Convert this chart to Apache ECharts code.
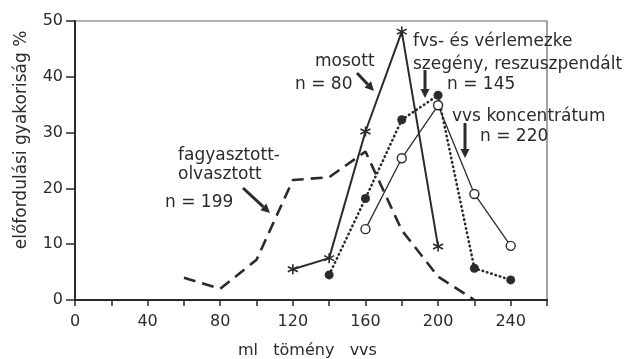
<!DOCTYPE html>
<html><head><meta charset="utf-8">
<script src="https://cdn.jsdelivr.net/npm/echarts@6/dist/echarts.min.js"></script>
<style>html,body{margin:0;padding:0;background:#fff}#c{width:630px;height:359px}</style>
</head><body><div id="c"></div>
<script>
// Data (x = ml tömény vvs, y = előfordulási gyakoriság %)
var fagyX = [60, 80, 100, 120, 140, 160, 180, 200, 220];
var fagyY = [4, 2, 7.2, 21.5, 22, 26.6, 12.5, 4.2, 0];
var mosottX = [120, 140, 160, 180, 200];
var mosottY = [5.5, 7.5, 30.2, 48.1, 9.6];
var fvsX = [140, 160, 180, 200, 220, 240];
var fvsY = [4.5, 18.2, 32.3, 36.7, 5.7, 3.6];
var vvsX = [160, 180, 200, 220, 240];
var vvsY = [12.7, 25.4, 34.9, 19.0, 9.7];
var xTickLabels = ['0', '40', '80', '120', '160', '200', '240'];
var yTickLabels = ['0', '10', '20', '30', '40', '50'];

function pairs(xs, ys) { return xs.map(function (x, i) { return [x, ys[i]]; }); }

var FONT = 'DejaVu Sans';
var INK = '#2b2b2b';
var star = 'path://M0,-10L0,10M-8.66,-5L8.66,5M-8.66,5L8.66,-5';

function arrow(x1, y1, x2, y2) {
  var dx = x2 - x1, dy = y2 - y1, L = Math.sqrt(dx * dx + dy * dy);
  var ux = dx / L, uy = dy / L, hl = 9, hw = 4.5;
  var bx = x2 - ux * hl, by = y2 - uy * hl;
  return [
    { type: 'line', shape: { x1: x1, y1: y1, x2: bx, y2: by }, style: { stroke: INK, lineWidth: 3 } },
    { type: 'polygon', shape: { points: [[x2, y2], [bx - uy * hw, by + ux * hw], [bx + uy * hw, by - ux * hw]] }, style: { fill: INK } }
  ];
}
function txt(x, y, s, align, size) {
  return { type: 'text', x: x, y: y, style: { text: s, font: (size || 17) + 'px "' + FONT + '"', fill: INK, textAlign: align || 'left', textVerticalAlign: 'middle' } };
}

var chart = echarts.init(document.getElementById('c'), null, { renderer: 'canvas' });
var graphics = [
  txt(178, 156, 'fagyasztott-'),
  txt(178, 175, 'olvasztott'),
  txt(165, 203, 'n = 199'),
  txt(315, 62, 'mosott'),
  txt(295, 85, 'n = 80'),
  txt(413, 42, 'fvs- és vérlemezke'),
  txt(413, 65, 'szegény, reszuszpendált'),
  txt(447, 85, 'n = 145'),
  txt(452, 117, 'vvs koncentrátum'),
  txt(480, 137, 'n = 220'),
  txt(238, 351, 'ml   tömény   vvs', 'left', 16),
  { type: 'text', x: 22, y: 140, rotation: Math.PI / 2,
    style: { text: 'előfordulási gyakoriság %', font: '17px "' + FONT + '"', fill: INK, textAlign: 'center', textVerticalAlign: 'middle' } }
].concat(arrow(243, 188, 270, 213), arrow(357, 73, 374, 91), arrow(425, 70, 425, 98), arrow(465, 123, 465, 158));

chart.setOption({
  animation: false,
  backgroundColor: '#fff',
  grid: { left: 75, right: 83, top: 21, bottom: 59, show: true, borderColor: '#666', borderWidth: 1.2, backgroundColor: 'transparent' },
  xAxis: {
    type: 'value', min: 0, max: 260, interval: 20,
    axisLine: { show: true, onZero: false, lineStyle: { color: INK, width: 2 } },
    axisTick: { show: true, length: 6, lineStyle: { color: INK, width: 1.5 } },
    splitLine: { show: false },
    axisLabel: { color: INK, fontFamily: FONT, fontSize: 16, margin: 14,
      formatter: function (v) { var s = String(v); return xTickLabels.indexOf(s) >= 0 ? s : ''; } }
  },
  yAxis: {
    type: 'value', min: 0, max: 50, interval: 10,
    axisLine: { show: true, lineStyle: { color: INK, width: 2 } },
    axisTick: { show: true, length: 9, lineStyle: { color: INK, width: 1.5 } },
    splitLine: { show: false },
    axisLabel: { color: INK, fontFamily: FONT, fontSize: 16, margin: 12,
      formatter: function (v) { var s = String(v); return yTickLabels.indexOf(s) >= 0 ? s : ''; } }
  },
  graphic: graphics,
  series: [
    { name: 'fagyasztott-olvasztott', type: 'line', data: pairs(fagyX, fagyY), showSymbol: false, symbol: 'none',
      lineStyle: { color: INK, width: 2.6, type: [12, 7] }, z: 2 },
    { name: 'mosott', type: 'line', data: pairs(mosottX, mosottY), symbol: star, symbolSize: 10,
      lineStyle: { color: INK, width: 2 }, itemStyle: { color: '#fff', borderColor: INK, borderWidth: 1.6 }, z: 3 },
    { name: 'fvs', type: 'line', data: pairs(fvsX, fvsY), symbol: 'circle', symbolSize: 9,
      lineStyle: { color: INK, width: 2.6, type: [0.5, 4], cap: 'round' }, itemStyle: { color: INK, borderWidth: 0 }, z: 3 },
    { name: 'vvs', type: 'line', data: pairs(vvsX, vvsY), symbol: 'circle', symbolSize: 9,
      lineStyle: { color: INK, width: 1.3 }, itemStyle: { color: '#fff', borderColor: INK, borderWidth: 1.4 }, z: 4 }
  ]
});
</script></body></html>
